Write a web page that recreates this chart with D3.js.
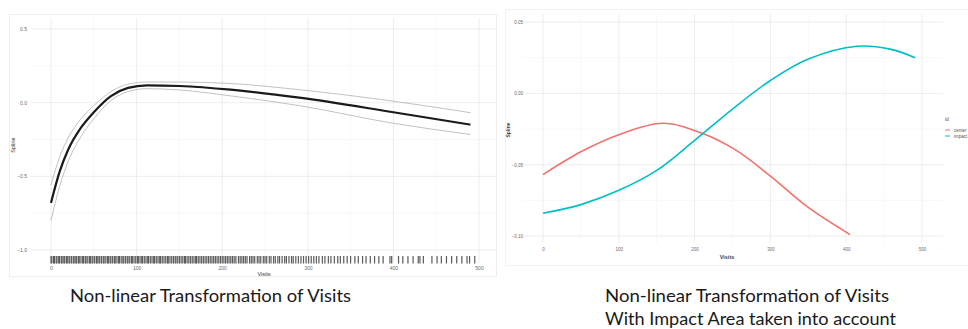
<!DOCTYPE html>
<html>
<head>
<meta charset="utf-8">
<script src="https://cdn.jsdelivr.net/npm/d3@7"></script>
<style>
  body { margin: 0; background: #fff; }
  svg { display: block; }
  .tick text { fill: #6b6b6b; font-family: "Liberation Sans", Arial, sans-serif; }
</style>
</head>
<body>
<svg id="chart" width="968" height="329"></svg>
<script>
// left panel: spline fit with confidence band
var leftVisits = [0, 10, 20, 35, 50, 70, 90, 112, 150, 210, 290, 400, 490];
var leftFit    = [-0.68, -0.47, -0.32, -0.17, -0.065, 0.045, 0.10, 0.118, 0.113, 0.088, 0.034, -0.065, -0.149];
var leftUpper  = [-0.56, -0.37, -0.24, -0.11, -0.02, 0.075, 0.125, 0.14, 0.14, 0.13, 0.088, 0.01, -0.068];
var leftLower  = [-0.80, -0.57, -0.40, -0.23, -0.11, 0.015, 0.075, 0.095, 0.086, 0.046, -0.02, -0.14, -0.216];

// rug of observed visits
var rugVisits = [0,1,3,4,6,7,9,10,12,13,15,16,18,19,21,22,24,26,27,29,30,32,33,35,37,38,40,41,43,45,46,48,49,51,53,54,56,57,59,61,62,64,66,67,69,70,72,74,75,77,79,80,82,84,85,87,89,90,92,94,95,97,99,101,102,104,106,107,109,111,113,114,116,118,120,121,123,125,127,128,130,132,134,136,137,139,141,143,145,146,148,150,152,154,156,157,159,161,163,165,167,169,170,172,174,176,178,180,182,184,186,188,190,192,194,196,198,200,202,204,206,208,210,212,214,216,219,221,223,225,227,229,232,234,236,238,241,243,245,248,250,252,255,257,260,262,265,267,270,273,275,278,281,283,286,289,292,295,298,301,304,307,310,313,317,320,324,327,331,335,338,342,346,350,355,359,364,368,373,378,383,388,396,398,406,411,417,423,429,431,435,445,451,456,462,468,474,480,486,489,495];

// right panel: two spline fits by id
var centerVisits = [0, 50, 100, 158, 210, 255, 300, 350, 405];
var centerVals   = [-0.057, -0.041, -0.029, -0.021, -0.028, -0.040, -0.058, -0.080, -0.099];
var impactVisits = [0, 50, 100, 150, 200, 250, 300, 350, 414, 458, 491];
var impactVals   = [-0.084, -0.078, -0.068, -0.054, -0.033, -0.011, 0.009, 0.024, 0.033, 0.031, 0.025];

var xTicks = [0, 100, 200, 300, 400, 500];
var xMinor = [50, 150, 250, 350, 450];
var leftYTicks = [0.5, 0.0, -0.5, -1.0];
var leftYMinor = [0.25, -0.25, -0.75];
var rightYTicks = [0.05, 0.00, -0.05, -0.10];
var rightYMinor = [0.025, -0.025, -0.075];
var legendIds = ["center", "impact"];
var legendColors = ["#F2716B", "#00BFC4"];

var svg = d3.select("#chart");

function zip(xs, ys) {
  return xs.map(function(v, i) { return {x: v, y: ys[i]}; });
}

function grid(g, x, y, box, majX, minX, majY, minY) {
  g.selectAll(".minx").data(minX).enter().append("line")
    .attr("x1", function(d) { return x(d); }).attr("x2", function(d) { return x(d); })
    .attr("y1", box.top).attr("y2", box.bottom)
    .attr("stroke", "#f3f3f3").attr("stroke-width", 0.6);
  g.selectAll(".miny").data(minY).enter().append("line")
    .attr("x1", box.left).attr("x2", box.right)
    .attr("y1", function(d) { return y(d); }).attr("y2", function(d) { return y(d); })
    .attr("stroke", "#f3f3f3").attr("stroke-width", 0.6);
  g.selectAll(".majx").data(majX).enter().append("line")
    .attr("x1", function(d) { return x(d); }).attr("x2", function(d) { return x(d); })
    .attr("y1", box.top).attr("y2", box.bottom)
    .attr("stroke", "#e9e9e9").attr("stroke-width", 0.8);
  g.selectAll(".majy").data(majY).enter().append("line")
    .attr("x1", box.left).attr("x2", box.right)
    .attr("y1", function(d) { return y(d); }).attr("y2", function(d) { return y(d); })
    .attr("stroke", "#e9e9e9").attr("stroke-width", 0.8);
}

// faint screenshot frames
svg.append("rect").attr("x", 9.5).attr("y", 14.5).attr("width", 487).attr("height", 262)
  .attr("fill", "none").attr("stroke", "#eeeeee");
svg.append("rect").attr("x", 505.5).attr("y", 9.5).attr("width", 470).attr("height", 256)
  .attr("fill", "none").attr("stroke", "#f2f2f2");

// ---------- left panel ----------
var xL = d3.scaleLinear().domain([0, 500]).range([51, 479]);
var yL = d3.scaleLinear().domain([-1, 0.5]).range([250, 29]);
var gL = svg.append("g");
grid(gL, xL, yL, {left: 31, right: 497, top: 18, bottom: 263}, xTicks, xMinor, leftYTicks, leftYMinor);

var lineL = d3.line().x(function(d) { return xL(d.x); }).y(function(d) { return yL(d.y); })
  .curve(d3.curveMonotoneX);
gL.append("path").datum(zip(leftVisits, leftUpper)).attr("d", lineL)
  .attr("fill", "none").attr("stroke", "#a8a8a8").attr("stroke-width", 0.7);
gL.append("path").datum(zip(leftVisits, leftLower)).attr("d", lineL)
  .attr("fill", "none").attr("stroke", "#a8a8a8").attr("stroke-width", 0.7);
gL.append("path").datum(zip(leftVisits, leftFit)).attr("d", lineL)
  .attr("fill", "none").attr("stroke", "#1a1a1a").attr("stroke-width", 2.2);

gL.selectAll(".rug").data(rugVisits).enter().append("line")
  .attr("x1", function(d) { return xL(d); }).attr("x2", function(d) { return xL(d); })
  .attr("y1", 256).attr("y2", 263.5)
  .attr("stroke", "#5a5a5a").attr("stroke-width", 1.2);

gL.append("g").attr("transform", "translate(0,263)")
  .call(d3.axisBottom(xL).tickValues(xTicks).tickSize(0).tickPadding(3))
  .call(function(g) { g.select(".domain").remove(); })
  .selectAll("text").style("font-size", "5px");
gL.append("g").attr("transform", "translate(31,0)")
  .call(d3.axisLeft(yL).tickValues(leftYTicks).tickSize(0).tickPadding(4).tickFormat(d3.format(".1f")))
  .call(function(g) { g.select(".domain").remove(); })
  .selectAll("text").style("font-size", "5px");

gL.append("text").attr("x", 264).attr("y", 276).attr("text-anchor", "middle")
  .style("font-family", "Liberation Sans, Arial, sans-serif").style("font-size", "5.5px")
  .attr("fill", "#333").text("Visits");
gL.append("text").attr("transform", "translate(15,145) rotate(-90)").attr("text-anchor", "middle")
  .style("font-family", "Liberation Sans, Arial, sans-serif").style("font-size", "5.5px")
  .attr("fill", "#333").text("Spline");

// ---------- right panel ----------
var xR = d3.scaleLinear().domain([0, 500]).range([543, 922]);
var yR = d3.scaleLinear().domain([-0.10, 0.05]).range([236, 22]);
var gR = svg.append("g");
grid(gR, xR, yR, {left: 523, right: 943, top: 14, bottom: 243}, xTicks, xMinor, rightYTicks, rightYMinor);

var lineR = d3.line().x(function(d) { return xR(d.x); }).y(function(d) { return yR(d.y); })
  .curve(d3.curveCatmullRom);
gR.append("path").datum(zip(centerVisits, centerVals)).attr("d", lineR)
  .attr("fill", "none").attr("stroke", legendColors[0]).attr("stroke-width", 1.6);
gR.append("path").datum(zip(impactVisits, impactVals)).attr("d", lineR)
  .attr("fill", "none").attr("stroke", legendColors[1]).attr("stroke-width", 1.6);

gR.append("g").attr("transform", "translate(0,245)")
  .call(d3.axisBottom(xR).tickValues(xTicks).tickSize(0).tickPadding(3))
  .call(function(g) { g.select(".domain").remove(); })
  .selectAll("text").style("font-size", "4.5px");
gR.append("g").attr("transform", "translate(525,0)")
  .call(d3.axisLeft(yR).tickValues(rightYTicks).tickSize(0).tickPadding(2).tickFormat(d3.format(".2f")))
  .call(function(g) { g.select(".domain").remove(); })
  .selectAll("text").style("font-size", "4.5px");

gR.append("text").attr("x", 727).attr("y", 259).attr("text-anchor", "middle")
  .style("font-family", "Liberation Sans, Arial, sans-serif").style("font-size", "5.5px")
  .style("font-weight", "bold").attr("fill", "#444").text("Visits");
gR.append("text").attr("transform", "translate(510,130) rotate(-90)").attr("text-anchor", "middle")
  .style("font-family", "Liberation Sans, Arial, sans-serif").style("font-size", "5px")
  .style("font-weight", "bold").attr("fill", "#444").text("Spline");

// legend
var leg = gR.append("g").attr("transform", "translate(945,117)");
leg.append("text").attr("x", 0).attr("y", 4).text("id")
  .style("font-family", "Liberation Sans, Arial, sans-serif").style("font-size", "5px").attr("fill", "#555");
legendIds.forEach(function(id, i) {
  leg.append("line").attr("x1", 0).attr("x2", 5).attr("y1", 13 + i * 6).attr("y2", 13 + i * 6)
    .attr("stroke", legendColors[i]).attr("stroke-width", 1);
  leg.append("text").attr("x", 9).attr("y", 14.5 + i * 6).text(id)
    .style("font-family", "Liberation Sans, Arial, sans-serif").style("font-size", "4.5px").attr("fill", "#555");
});

// captions
var cap = svg.append("g").style("font-family", "Lato, 'Open Sans', sans-serif").style("font-size", "17.5px").attr("fill", "#1a1a1a");
cap.append("text").attr("x", 70).attr("y", 302).attr("textLength", 281).attr("lengthAdjust", "spacingAndGlyphs")
  .text("Non-linear Transformation of Visits");
cap.append("text").attr("x", 605).attr("y", 302).attr("textLength", 284).attr("lengthAdjust", "spacingAndGlyphs")
  .text("Non-linear Transformation of Visits");
cap.append("text").attr("x", 605).attr("y", 325).attr("textLength", 291).attr("lengthAdjust", "spacingAndGlyphs")
  .text("With Impact Area taken into account");
</script>
</body>
</html>
